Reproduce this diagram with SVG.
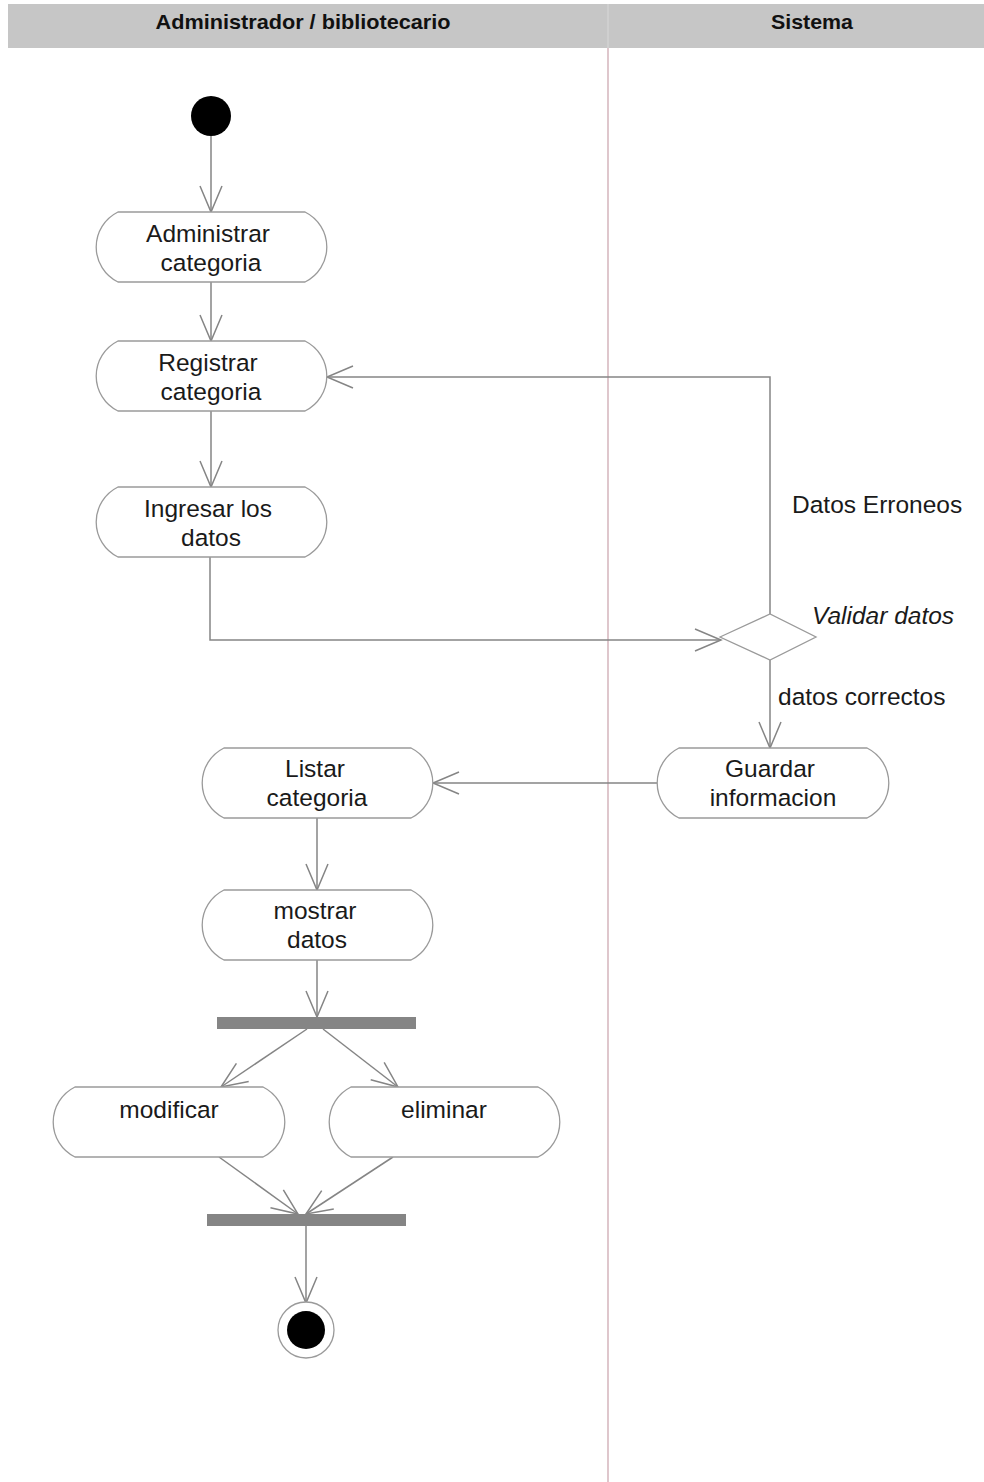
<svg xmlns="http://www.w3.org/2000/svg" width="984" height="1482" viewBox="0 0 984 1482">
  <style>
    .lane-head { fill: #c6c6c6; }
    .lane-title { font-family: "Liberation Sans", Arial, sans-serif; font-size: 21px; font-weight: bold; fill: #111; text-anchor: middle; }
    .act { fill: #ffffff; stroke: #9a9a9a; stroke-width: 1.3; }
    .lbl { font-family: "Liberation Sans", Arial, sans-serif; font-size: 24.5px; fill: #1a1a1a; text-anchor: middle; }
    .guard { font-family: "Liberation Sans", Arial, sans-serif; font-size: 24.5px; fill: #1a1a1a; }
    .flow { fill: none; stroke: #858585; stroke-width: 1.5; }
    .bar { fill: #858585; }
  </style>
  <defs>
    <marker id="open" markerUnits="userSpaceOnUse" markerWidth="30" markerHeight="30" viewBox="-27 -13 30 26" refX="0" refY="0" orient="auto">
      <path d="M -26 -11 L 0 0 L -26 11" fill="none" stroke="#858585" stroke-width="1.5"/>
    </marker>
  </defs>

  <rect width="984" height="1482" fill="#ffffff"/>

  <!-- swimlanes -->
  <g id="lanes">
    <rect class="lane-head" x="8" y="4" width="976" height="44"/>
    <line x1="608" y1="4" x2="608" y2="48" stroke="#d8d8d8" stroke-width="1"/>
    <line x1="608" y1="48" x2="608" y2="1482" stroke="#c9a2ab" stroke-width="1.2"/>
    <text class="lane-title" x="303" y="29" textLength="295" lengthAdjust="spacingAndGlyphs">Administrador / bibliotecario</text>
    <text class="lane-title" x="812" y="29" textLength="82" lengthAdjust="spacingAndGlyphs">Sistema</text>
  </g>

  <!-- control flows -->
  <g id="connectors">
    <line class="flow" x1="211" y1="136" x2="211" y2="212" marker-end="url(#open)"/>
    <line class="flow" x1="211" y1="282" x2="211" y2="341" marker-end="url(#open)"/>
    <line class="flow" x1="211" y1="411" x2="211" y2="487" marker-end="url(#open)"/>
    <polyline class="flow" points="210,557 210,640 721,640" marker-end="url(#open)"/>
    <polyline class="flow" points="770,614 770,377 327,377" marker-end="url(#open)"/>
    <line class="flow" x1="770" y1="660" x2="770" y2="748" marker-end="url(#open)"/>
    <line class="flow" x1="657" y1="783" x2="433" y2="783" marker-end="url(#open)"/>
    <line class="flow" x1="317" y1="818" x2="317" y2="890" marker-end="url(#open)"/>
    <line class="flow" x1="317" y1="960" x2="317" y2="1017" marker-end="url(#open)"/>
    <line class="flow" x1="307" y1="1029" x2="221" y2="1087" marker-end="url(#open)"/>
    <line class="flow" x1="323" y1="1029" x2="398" y2="1087" marker-end="url(#open)"/>
    <line class="flow" x1="219" y1="1157" x2="298" y2="1214" marker-end="url(#open)"/>
    <line class="flow" x1="393" y1="1157" x2="306" y2="1214" marker-end="url(#open)"/>
    <line class="flow" x1="306" y1="1226" x2="306" y2="1303" marker-end="url(#open)"/>
    <text class="guard" x="792" y="513">Datos Erroneos</text>
    <text class="guard" x="778" y="705">datos correctos</text>
  </g>

  <g id="start">
    <circle cx="211" cy="116" r="20" fill="#000"/>
  </g>

  <g id="administrar-categoria">
    <path class="act" d="M118,212 H305 A39,39 0 0 1 305,282 H118 A39,39 0 0 1 118,212 Z"/>
    <text class="lbl" x="208" y="242">Administrar</text>
    <text class="lbl" x="211" y="271">categoria</text>
  </g>

  <g id="registrar-categoria">
    <path class="act" d="M118,341 H305 A39,39 0 0 1 305,411 H118 A39,39 0 0 1 118,341 Z"/>
    <text class="lbl" x="208" y="371">Registrar</text>
    <text class="lbl" x="211" y="400">categoria</text>
  </g>

  <g id="ingresar-datos">
    <path class="act" d="M118,487 H305 A39,39 0 0 1 305,557 H118 A39,39 0 0 1 118,487 Z"/>
    <text class="lbl" x="208" y="517">Ingresar los</text>
    <text class="lbl" x="211" y="546">datos</text>
  </g>

  <g id="validar-datos">
    <polygon class="act" points="720,637 770,614 816,637 770,660"/>
    <text class="guard" x="812" y="624" font-style="italic">Validar datos</text>
  </g>

  <g id="guardar-informacion">
    <path class="act" d="M679,748 H867 A39,39 0 0 1 867,818 H679 A39,39 0 0 1 679,748 Z"/>
    <text class="lbl" x="770" y="777">Guardar</text>
    <text class="lbl" x="773" y="806">informacion</text>
  </g>

  <g id="listar-categoria">
    <path class="act" d="M224,748 H411 A39,39 0 0 1 411,818 H224 A39,39 0 0 1 224,748 Z"/>
    <text class="lbl" x="315" y="777">Listar</text>
    <text class="lbl" x="317" y="806">categoria</text>
  </g>

  <g id="mostrar-datos">
    <path class="act" d="M224,890 H411 A39,39 0 0 1 411,960 H224 A39,39 0 0 1 224,890 Z"/>
    <text class="lbl" x="315" y="919">mostrar</text>
    <text class="lbl" x="317" y="948">datos</text>
  </g>

  <g id="fork">
    <rect class="bar" x="217" y="1017" width="199" height="12"/>
  </g>

  <g id="modificar">
    <path class="act" d="M75,1087 H263 A39,39 0 0 1 263,1157 H75 A39,39 0 0 1 75,1087 Z"/>
    <text class="lbl" x="169" y="1118">modificar</text>
  </g>

  <g id="eliminar">
    <path class="act" d="M351,1087 H538 A39,39 0 0 1 538,1157 H351 A39,39 0 0 1 351,1087 Z"/>
    <text class="lbl" x="444" y="1118">eliminar</text>
  </g>

  <g id="join">
    <rect class="bar" x="207" y="1214" width="199" height="12"/>
  </g>

  <g id="end">
    <circle cx="306" cy="1330" r="28" fill="#fff" stroke="#9a9a9a" stroke-width="1.3"/>
    <circle cx="306" cy="1330" r="19" fill="#000"/>
  </g>
</svg>
